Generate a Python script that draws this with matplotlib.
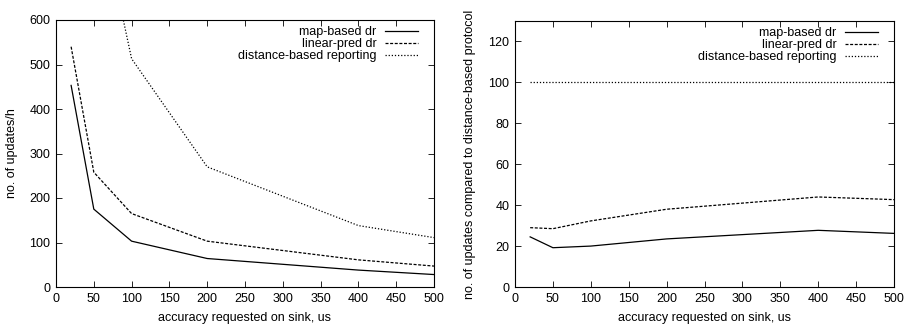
import matplotlib
matplotlib.use('Agg')
import matplotlib.pyplot as plt

plt.rcParams['font.family'] = ['Liberation Sans', 'DejaVu Sans']
plt.rcParams['font.size'] = 9

# accuracy values (x)
accuracy = [20, 50, 100, 200, 400, 500]

# left panel: absolute number of updates per hour
map_based_abs = [453, 175, 103, 64, 38, 28]
linear_pred_abs = [540, 258, 165, 103, 61, 47]
distance_abs = [1850, 910, 513, 270, 138, 111]

# right panel: relative to distance-based protocol (%)
map_based_rel = [24.5, 19.2, 20.0, 23.5, 27.7, 26.2]
linear_pred_rel = [29.0, 28.5, 32.3, 38.0, 44.0, 42.7]
distance_rel = [100, 100, 100, 100, 100, 100]

labels = ['map-based dr', 'linear-pred dr', 'distance-based reporting']
styles = [dict(linestyle='-'), dict(linestyle=(0, (2.4, 1.3))), dict(linestyle=(0, (1, 1.5)))]

W, H = 909, 327
fig = plt.figure(figsize=(W / 100, H / 100), dpi=100)
ax1 = fig.add_axes([56 / W, 1 - 287 / H, 378 / W, 267 / H])
ax2 = fig.add_axes([515 / W, 1 - 287 / H, 379 / W, 266 / H])

def style_axes(ax):
    ax.tick_params(direction='in', top=True, right=True, length=4, width=0.6, pad=4)
    for s in ax.spines.values():
        s.set_linewidth(0.8)
    ax.set_xlim(0, 500)
    ax.set_xticks(range(0, 501, 50))
    ax.set_xlabel('accuracy requested on sink, us', labelpad=5)
    ax.legend(loc='upper right', bbox_to_anchor=(1 - 10 / 378, 1.0),
              frameon=False, markerfirst=False,
              handlelength=2.65, handletextpad=0.65, labelspacing=0.0,
              borderaxespad=0.3, borderpad=0.2)

for ys, lab, st in zip([map_based_abs, linear_pred_abs, distance_abs], labels, styles):
    ax1.plot(accuracy, ys, color='black', linewidth=0.9, label=lab, **st)
ax1.set_ylim(0, 600)
ax1.set_yticks(range(0, 601, 100))
ax1.set_ylabel('no. of updates/h', labelpad=8)
style_axes(ax1)

for ys, lab, st in zip([map_based_rel, linear_pred_rel, distance_rel], labels, styles):
    ax2.plot(accuracy, ys, color='black', linewidth=0.9, label=lab, **st)
ax2.set_ylim(0, 130)
ax2.set_yticks(range(0, 121, 20))
ax2.set_ylabel('no. of updates compared to distance-based protocol', labelpad=9)
style_axes(ax2)

fig.savefig('out.png', dpi=100)
